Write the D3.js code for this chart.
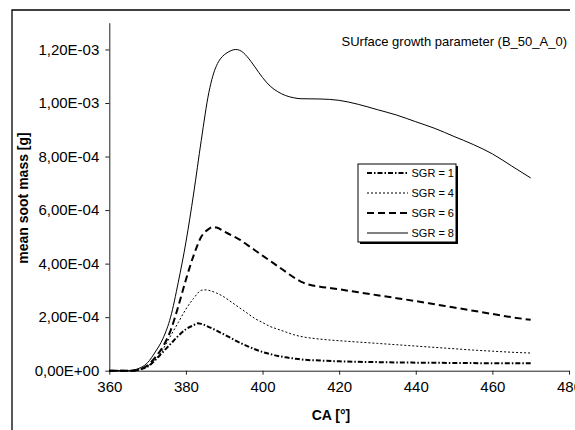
<!DOCTYPE html>
<html><head><meta charset="utf-8">
<script src="https://cdn.jsdelivr.net/npm/d3@7/dist/d3.min.js"></script>
<style>body{margin:0;background:#fff}svg{display:block}text{font-family:"Liberation Sans",Arial,sans-serif}</style>
</head><body><svg id="c" width="575" height="430"></svg>
<script>
const titleText = "SUrface growth parameter (B_50_A_0)";
const xTitle = "CA [°]";
const yTitle = "mean soot mass [g]";
const xTicks = [360, 380, 400, 420, 440, 460, 480];
const yTicks = [0, 2e-4, 4e-4, 6e-4, 8e-4, 1e-3, 1.2e-3];
const yTickLabels = ["0,00E+00","2,00E-04","4,00E-04","6,00E-04","8,00E-04","1,00E-03","1,20E-03"];
const seriesNames = ["SGR = 1","SGR = 4","SGR = 6","SGR = 8"];

const sgr1 = [[360,0],[366,0],[368,0.000005],[370,0.000015],[372,0.00004],[374,0.00007],[376,0.0001],[378,0.00013],[380,0.000155],[382,0.00017],[383,0.000177],[384,0.000175],[386,0.000163],[388,0.00015],[390,0.000135],[392,0.00012],[394,0.000105],[396,0.000092],[398,0.00008],[400,0.00007],[402,0.000062],[404,0.000055],[406,0.00005],[408,0.000046],[410,0.000042],[415,0.000038],[420,0.000035],[430,0.000032],[440,0.00003],[450,0.000029],[460,0.000028],[470,0.000028]];
const sgr4 = [[360,0],[366,0],[368,0.000005],[370,0.000018],[372,0.00004],[374,0.00008],[376,0.00013],[378,0.00018],[380,0.00023],[382,0.00027],[384,0.0003],[385,0.000302],[386,0.0003],[388,0.00029],[390,0.000275],[392,0.000255],[394,0.000235],[396,0.000215],[398,0.000195],[400,0.00018],[402,0.000165],[404,0.000155],[406,0.000145],[408,0.000135],[410,0.000128],[415,0.000118],[420,0.000112],[425,0.000107],[430,0.000102],[435,0.000097],[440,0.000092],[445,0.000087],[450,0.000082],[455,0.000077],[460,0.000073],[465,0.000069],[470,0.000066]];
const sgr6 = [[360,0],[366,0],[368,0.000005],[370,0.00002],[372,0.00005],[374,0.00009],[376,0.00015],[378,0.00024],[380,0.00034],[382,0.00043],[384,0.0005],[386,0.00053],[387,0.000537],[388,0.000535],[390,0.00052],[392,0.000505],[394,0.00049],[396,0.00047],[398,0.00045],[400,0.00043],[402,0.00041],[404,0.00039],[406,0.00037],[408,0.00035],[410,0.000333],[412,0.000322],[415,0.000314],[420,0.000304],[425,0.000293],[430,0.000282],[435,0.000271],[440,0.00026],[445,0.000248],[450,0.000236],[455,0.000224],[460,0.000212],[465,0.0002],[470,0.00019]];
const sgr8 = [[360,0],[365,0],[367,0.000005],[370,0.00003],[372,0.00007],[374,0.00012],[376,0.0002],[378,0.00033],[380,0.00048],[382,0.00066],[384,0.00086],[386,0.00104],[387,0.0011],[388,0.00114],[389,0.001165],[390,0.00118],[391,0.00119],[392,0.001197],[393,0.0012],[394,0.001197],[395,0.001188],[396,0.001173],[397,0.001155],[398,0.001135],[400,0.001095],[402,0.001063],[404,0.001042],[406,0.001028],[408,0.00102],[410,0.001016],[415,0.001015],[420,0.00101],[425,0.000995],[430,0.000975],[435,0.000955],[440,0.00093],[445,0.000905],[450,0.000875],[455,0.000845],[460,0.00081],[465,0.000765],[470,0.00072]];

const svg = d3.select("#c");
const styles = [
  {data: sgr1, w: 2, dash: "5,2,1.5,2"},
  {data: sgr4, w: 1, dash: "2,2"},
  {data: sgr6, w: 2, dash: "7,4"},
  {data: sgr8, w: 1, dash: null}
];

// outer frame
svg.append("path").attr("d","M12,432V10H570").attr("fill","none").attr("stroke","#000").attr("stroke-width",1.3);

const x = d3.scaleLinear().domain([360,480]).range([109.3,569]);
const y = d3.scaleLinear().domain([0,1.3e-3]).range([370.7,22.7]);

const gx = svg.append("g").attr("transform","translate(0,370.7)")
  .call(d3.axisBottom(x).tickValues(xTicks).tickSize(4).tickSizeOuter(0).tickPadding(7).tickFormat(d3.format("d")));
const gy = svg.append("g").attr("transform","translate(109.3,0)")
  .call(d3.axisLeft(y).tickValues(yTicks).tickSize(4).tickSizeOuter(0).tickPadding(6).tickFormat((d,i)=>yTickLabels[i]));
[gx,gy].forEach(g=>{
  g.select(".domain").attr("stroke","#222").attr("stroke-width",1);
  g.selectAll(".tick line").attr("stroke","#222");
  g.selectAll("text").attr("font-size",15).attr("fill","#000").attr("font-family","Liberation Sans, Arial, sans-serif");
});

const line = d3.line().x(d=>x(d[0])).y(d=>y(d[1])).curve(d3.curveMonotoneX);
styles.forEach(s=>{
  svg.append("path").attr("d", line(s.data)).attr("fill","none").attr("stroke","#000")
    .attr("stroke-width", s.w).attr("stroke-dasharray", s.dash);
});

// title
svg.append("text").attr("x",567).attr("y",46).attr("text-anchor","end").attr("font-size",13).text(titleText);
// axis titles
svg.append("text").attr("x",331).attr("y",420).attr("text-anchor","middle").attr("font-size",14).attr("font-weight","bold").text(xTitle);
svg.append("text").attr("transform","translate(28,198) rotate(-90)").attr("text-anchor","middle").attr("font-size",14).attr("font-weight","bold").text(yTitle);

// legend
const lg = svg.append("g");
lg.append("rect").attr("x",360).attr("y",166).attr("width",98).attr("height",78).attr("fill","#000");
lg.append("rect").attr("x",358).attr("y",164).attr("width",98).attr("height",78).attr("fill","#fff").attr("stroke","#000").attr("stroke-width",1);
const ly = d3.scalePoint().domain(seriesNames).range([173,233]);
seriesNames.forEach((n,i)=>{
  const s = styles[i];
  lg.append("line").attr("x1",367).attr("x2",408).attr("y1",ly(n)).attr("y2",ly(n))
    .attr("stroke","#000").attr("stroke-width",s.w).attr("stroke-dasharray",s.dash);
  lg.append("text").attr("x",454).attr("y",ly(n)+4).attr("text-anchor","end").attr("font-size",11).text(n);
});
</script></body></html>
